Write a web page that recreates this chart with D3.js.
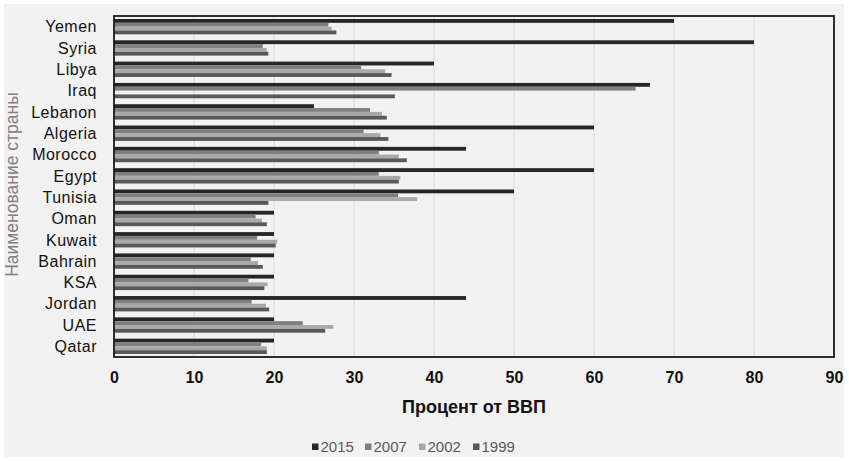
<!DOCTYPE html>
<html>
<head>
<meta charset="utf-8">
<script src="https://cdn.jsdelivr.net/npm/d3@7"></script>
<style>
  html, body { margin: 0; padding: 0; background: #ffffff; }
  svg { display: block; }
</style>
</head>
<body>
<svg id="chart" width="849" height="461"></svg>
<script>
// Countries, top to bottom
const countries = ["Yemen", "Syria", "Libya", "Iraq", "Lebanon", "Algeria", "Morocco", "Egypt",
  "Tunisia", "Oman", "Kuwait", "Bahrain", "KSA", "Jordan", "UAE", "Qatar"];

// Share of GDP (%) per year
const v2015 = [70, 80, 40, 67, 25, 60, 44, 60, 50, 20, 20, 20, 20, 44, 20, 20];
const v2007 = [26.8, 18.6, 30.9, 65.2, 32.0, 31.2, 33.1, 33.1, 35.5, 17.7, 17.9, 17.1, 16.8, 17.2, 23.6, 18.4];
const v2002 = [27.2, 19.1, 33.9, null, 33.5, 33.3, 35.6, 35.8, 37.9, 18.5, 20.4, 18.0, 19.2, 19.0, 27.4, 19.1];
const v1999 = [27.8, 19.3, 34.7, 35.1, 34.1, 34.3, 36.6, 35.6, 19.3, 19.1, 20.2, 18.6, 18.8, 19.4, 26.4, 19.1];

const seriesNames = ["2015", "2007", "2002", "1999"];
const seriesValues = [v2015, v2007, v2002, v1999];
const seriesColors = ["#262626", "#7f7f7f", "#a9a9a9", "#595959"];

const xTicks = [0, 10, 20, 30, 40, 50, 60, 70, 80, 90];
const xTitle = "Процент от ВВП";
const yTitle = "Наименование страны";

const svg = d3.select("#chart");
const W = 849, H = 461;

// chart area background
svg.append("rect").attr("x", 4).attr("y", 4).attr("width", W - 9).attr("height", H - 8)
  .attr("fill", "#f2f2f2");

const plot = { left: 114, right: 834, top: 16, bottom: 357 };

const x = d3.scaleLinear().domain([0, 90]).range([plot.left, plot.right]);
const y = d3.scaleBand().domain(countries).range([plot.top, plot.bottom])
  .paddingInner(0.28).paddingOuter(0.14);
const ySub = d3.scaleBand().domain(seriesNames).range([0, y.bandwidth()]);

// vertical gridlines
svg.append("g").selectAll("line").data(xTicks.slice(1, -1)).join("line")
  .attr("x1", d => x(d)).attr("x2", d => x(d))
  .attr("y1", plot.top).attr("y2", plot.bottom)
  .attr("stroke", "#d9d9d9").attr("stroke-width", 1);

// bars
const rows = [];
countries.forEach((c, i) => {
  seriesNames.forEach((s, j) => {
    const v = seriesValues[j][i];
    if (v != null) rows.push({ country: c, series: s, value: v, color: seriesColors[j] });
  });
});
svg.append("g").selectAll("rect").data(rows).join("rect")
  .attr("x", x(0))
  .attr("y", d => y(d.country) + ySub(d.series))
  .attr("width", d => x(d.value) - x(0))
  .attr("height", ySub.bandwidth())
  .attr("fill", d => d.color);

// plot frame
svg.append("rect")
  .attr("x", plot.left).attr("y", plot.top)
  .attr("width", plot.right - plot.left).attr("height", plot.bottom - plot.top)
  .attr("fill", "none").attr("stroke", "#1a1a1a").attr("stroke-width", 1.8);

// category labels
svg.append("g").selectAll("text").data(countries).join("text")
  .attr("x", 97)
  .attr("y", d => y(d) + y.bandwidth() / 2)
  .attr("dy", "0.36em")
  .attr("text-anchor", "end")
  .attr("font-family", "Liberation Sans, Arial, sans-serif")
  .attr("font-size", 16)
  .attr("letter-spacing", 0.5)
  .attr("fill", "#111")
  .text(d => d);

// x axis tick labels
const xAxis = d3.axisBottom(x).tickValues(xTicks).tickSize(0).tickPadding(0);
const gx = svg.append("g").attr("transform", `translate(0, ${plot.bottom + 15})`).call(xAxis);
gx.select(".domain").remove();
gx.selectAll("text")
  .attr("font-family", "Liberation Sans, Arial, sans-serif")
  .attr("font-weight", "bold")
  .attr("font-size", 16)
  .attr("fill", "#111");

// axis titles
svg.append("text")
  .attr("x", (plot.left + plot.right) / 2).attr("y", 413)
  .attr("text-anchor", "middle")
  .attr("font-family", "Liberation Sans, Arial, sans-serif")
  .attr("font-weight", "bold")
  .attr("font-size", 18)
  .attr("fill", "#111")
  .text(xTitle);

svg.append("text")
  .attr("transform", `translate(18, ${(plot.top + plot.bottom) / 2 - 2}) rotate(-90)`)
  .attr("text-anchor", "middle")
  .attr("font-family", "Liberation Sans, Arial, sans-serif")
  .attr("font-size", 17.5)
  .attr("fill", "#808080")
  .text(yTitle);

// legend
const legendX = [312, 365, 419, 473];
const lg = svg.append("g");
seriesNames.forEach((s, j) => {
  const g = lg.append("g").attr("transform", `translate(${legendX[j]}, 447)`);
  g.append("rect").attr("x", 0).attr("y", -3.5).attr("width", 6.5).attr("height", 6.5)
    .attr("fill", seriesColors[j]);
  g.append("text").attr("x", 8.5).attr("y", 0).attr("dy", "0.36em")
    .attr("font-family", "Liberation Sans, Arial, sans-serif")
    .attr("font-size", 15)
    .attr("fill", "#595959")
    .text(s);
});
</script>
</body>
</html>
